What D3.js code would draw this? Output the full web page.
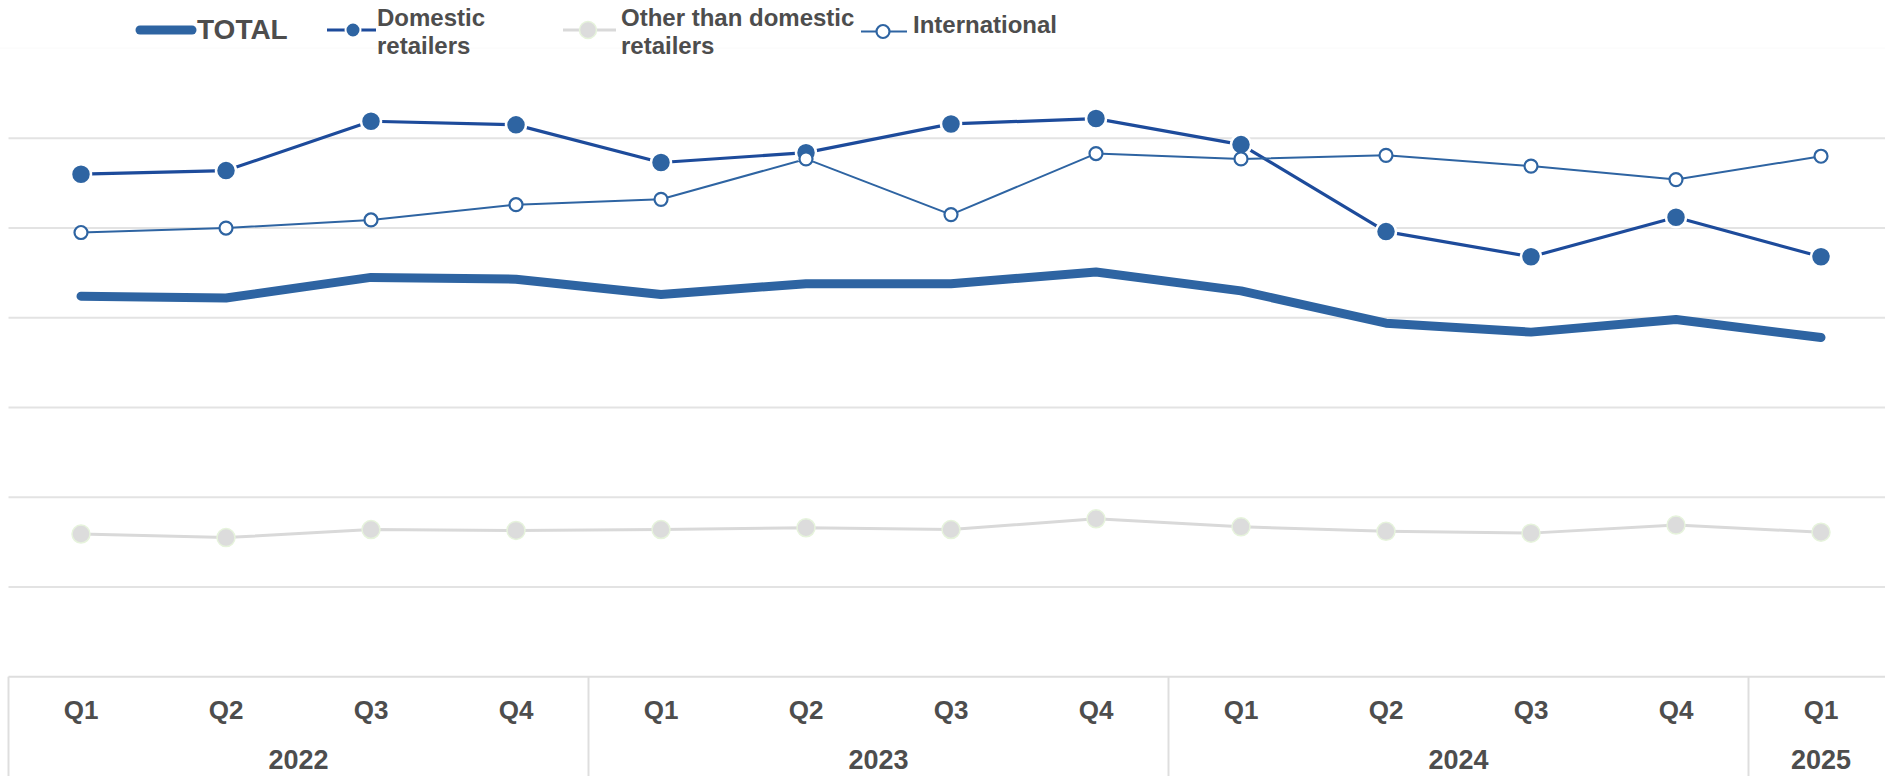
<!DOCTYPE html>
<html>
<head>
<meta charset="utf-8">
<script src="https://cdn.jsdelivr.net/npm/d3@7"></script>
<style>
  body { margin: 0; background: #fff; }
  text { font-family: "Liberation Sans", Arial, sans-serif; font-weight: bold; fill: #4d4d4d; }
</style>
</head>
<body>
<div id="chart"></div>
<script>
// 1. Data
const quarters = ["Q1", "Q2", "Q3", "Q4", "Q1", "Q2", "Q3", "Q4", "Q1", "Q2", "Q3", "Q4", "Q1"]
const years = ["2022", "2022", "2022", "2022", "2023", "2023", "2023", "2023", "2024", "2024", "2024", "2024", "2025"]
const yearLabels = ["2022", "2023", "2024", "2025"]

const totalValues = [42.4, 42.2, 44.5, 44.3, 42.6, 43.8, 43.8, 45.1, 43.0, 39.4, 38.4, 39.8, 37.8]
const domesticValues = [56.0, 56.4, 61.9, 61.5, 57.3, 58.4, 61.6, 62.2, 59.3, 49.6, 46.8, 51.2, 46.8]
const otherValues = [15.9, 15.5, 16.4, 16.3, 16.4, 16.6, 16.4, 17.6, 16.7, 16.2, 16.0, 16.9, 16.1]
const internationalValues = [49.5, 50.0, 50.9, 52.6, 53.2, 57.7, 51.5, 58.3, 57.7, 58.1, 56.9, 55.4, 58.0]

const gridValues = [10, 20, 30, 40, 50, 60]

async function drawChart() {

// 2. Dimensions
  let dimensions = {
    width: 1885,
    height: 776,
    plotLeft: 8.5,
    step: 145,
    axisTop: 676.7,
    gridTop: 138.3,
  }

  const keys = quarters.map((q, i) => i)

// 3. Canvas
  const wrapper = d3.select("#chart")
    .append("svg")
      .attr("width", dimensions.width)
      .attr("height", dimensions.height)

// 4. Scales
  const xScale = d3.scaleBand()
    .domain(keys)
    .range([dimensions.plotLeft, dimensions.plotLeft + dimensions.step * keys.length])
    .padding(0)

  const xCenter = i => xScale(i) + xScale.bandwidth() / 2

  const yScale = d3.scaleLinear()
    .domain([0, 60])
    .range([dimensions.axisTop, dimensions.gridTop])

// 5. Grid
  wrapper.append("g")
    .selectAll("line")
    .data(gridValues)
    .join("line")
      .attr("x1", dimensions.plotLeft)
      .attr("x2", dimensions.width)
      .attr("y1", d => yScale(d))
      .attr("y2", d => yScale(d))
      .attr("stroke", "#e3e3e3")
      .attr("stroke-width", 2)

  // very faint legend divider
  wrapper.append("line")
    .attr("x1", 0).attr("x2", dimensions.width)
    .attr("y1", 48).attr("y2", 48)
    .attr("stroke", "#fafafa")
    .attr("stroke-width", 1)

// 6. Series
  const lineGen = values => d3.line()
    .x((d, i) => xCenter(i))
    .y(d => yScale(d))(values)

  const series = [
    { name: "TOTAL", values: totalValues, stroke: "#2e64a2", width: 9, marker: null },
    { name: "Other", values: otherValues, stroke: "#d9d9d9", width: 3,
      marker: { r: 9, fill: "#dcdcdc", stroke: "#e6f3dc", sw: 1.5 } },
    { name: "Domestic", values: domesticValues, stroke: "#1d4b9b", width: 3.2,
      marker: { r: 10, fill: "#2e64a2", stroke: "#ffffff", sw: 2.5 } },
    { name: "International", values: internationalValues, stroke: "#2e64a2", width: 2,
      marker: { r: 6.5, fill: "#ffffff", stroke: "#2e64a2", sw: 2.2 } },
  ]

  const linesG = wrapper.append("g")
  series.forEach(s => {
    linesG.append("path")
      .attr("d", lineGen(s.values))
      .attr("fill", "none")
      .attr("stroke", s.stroke)
      .attr("stroke-width", s.width)
      .attr("stroke-linecap", "round")
      .attr("stroke-linejoin", "round")
  })

  const markersG = wrapper.append("g")
  series.filter(s => s.marker).forEach(s => {
    markersG.append("g")
      .selectAll("circle")
      .data(s.values)
      .join("circle")
        .attr("cx", (d, i) => xCenter(i))
        .attr("cy", d => yScale(d))
        .attr("r", s.marker.r)
        .attr("fill", s.marker.fill)
        .attr("stroke", s.marker.stroke)
        .attr("stroke-width", s.marker.sw)
  })

// 7. Category axis (two levels)
  const axisG = wrapper.append("g")
  axisG.append("line")
    .attr("x1", dimensions.plotLeft).attr("x2", dimensions.width)
    .attr("y1", dimensions.axisTop).attr("y2", dimensions.axisTop)
    .attr("stroke", "#dedede").attr("stroke-width", 2)

  const yearStarts = yearLabels.map(y => years.indexOf(y))
  const dividers = yearStarts.map(i => xScale(i))
  axisG.selectAll(".divider")
    .data(dividers)
    .join("line")
      .attr("class", "divider")
      .attr("x1", d => d).attr("x2", d => d)
      .attr("y1", dimensions.axisTop).attr("y2", dimensions.height)
      .attr("stroke", "#dedede").attr("stroke-width", 2)

  axisG.selectAll(".qlabel")
    .data(quarters)
    .join("text")
      .attr("class", "qlabel")
      .attr("x", (d, i) => xCenter(i))
      .attr("y", 719)
      .attr("text-anchor", "middle")
      .style("font-size", "26px")
      .text(d => d)

  axisG.selectAll(".ylabel")
    .data(yearLabels)
    .join("text")
      .attr("class", "ylabel")
      .attr("x", y => {
        const idx = keys.filter(i => years[i] === y)
        return (xScale(idx[0]) + xScale(idx[idx.length - 1]) + xScale.bandwidth()) / 2
      })
      .attr("y", 769)
      .attr("text-anchor", "middle")
      .style("font-size", "27px")
      .text(d => d)

// 8. Legend
  const legend = wrapper.append("g")

  legend.append("line")
    .attr("x1", 140).attr("x2", 192).attr("y1", 30).attr("y2", 30)
    .attr("stroke", "#2e64a2").attr("stroke-width", 9).attr("stroke-linecap", "round")
  legend.append("text")
    .attr("x", 197).attr("y", 39)
    .style("font-size", "28px")
    .text("TOTAL")

  // Domestic
  legend.append("line")
    .attr("x1", 327).attr("x2", 376).attr("y1", 30).attr("y2", 30)
    .attr("stroke", "#1d4b9b").attr("stroke-width", 3)
  legend.append("circle")
    .attr("cx", 353).attr("cy", 30).attr("r", 7.5)
    .attr("fill", "#2e64a2").attr("stroke", "#fff").attr("stroke-width", 2)
  const domText = legend.append("text").attr("x", 377).attr("y", 26).style("font-size", "24px")
  domText.append("tspan").attr("x", 377).text("Domestic")
  domText.append("tspan").attr("x", 377).attr("dy", 28).text("retailers")

  // Other
  legend.append("line")
    .attr("x1", 563).attr("x2", 616).attr("y1", 30).attr("y2", 30)
    .attr("stroke", "#d9d9d9").attr("stroke-width", 3)
  legend.append("circle")
    .attr("cx", 588).attr("cy", 30).attr("r", 8.5)
    .attr("fill", "#dcdcdc").attr("stroke", "#e6f3dc").attr("stroke-width", 1.5)
  const othText = legend.append("text").attr("x", 621).attr("y", 26).style("font-size", "24px")
  othText.append("tspan").attr("x", 621).text("Other than domestic")
  othText.append("tspan").attr("x", 621).attr("dy", 28).text("retailers")

  // International
  legend.append("line")
    .attr("x1", 861).attr("x2", 907).attr("y1", 31.5).attr("y2", 31.5)
    .attr("stroke", "#2e64a2").attr("stroke-width", 2)
  legend.append("circle")
    .attr("cx", 883).attr("cy", 31.5).attr("r", 6.5)
    .attr("fill", "#fff").attr("stroke", "#2e64a2").attr("stroke-width", 2.2)
  legend.append("text")
    .attr("x", 913).attr("y", 33)
    .style("font-size", "24px")
    .text("International")
}

drawChart()
</script>
</body>
</html>
